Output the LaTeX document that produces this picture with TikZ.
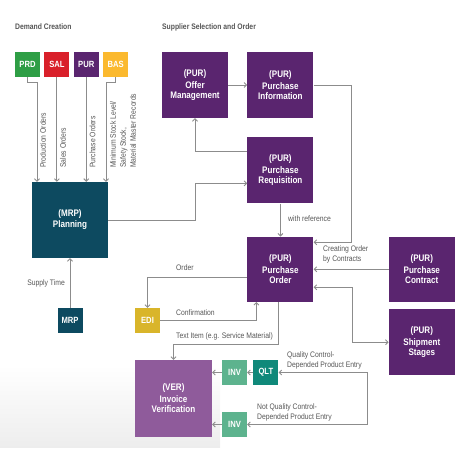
\documentclass[tikz,border=0pt]{standalone}
\usepackage{fontspec}
\setmainfont{Liberation Sans}[FakeStretch=0.85]
\usetikzlibrary{positioning,arrows.meta}

\definecolor{purcol}{HTML}{5A256F}
\definecolor{mrpcol}{HTML}{0D4A60}
\definecolor{vercol}{HTML}{8F5B9B}
\definecolor{prdcol}{HTML}{2E9E45}
\definecolor{salcol}{HTML}{D9202A}
\definecolor{bascol}{HTML}{FBB92E}
\definecolor{edicol}{HTML}{D9B52A}
\definecolor{invcol}{HTML}{5DB38E}
\definecolor{qltcol}{HTML}{10897A}
\definecolor{linegray}{HTML}{8C8C8C}
\definecolor{textgray}{HTML}{555555}

\begin{document}
\begin{tikzpicture}[x=1pt,y=-1pt,
                    big box/.style={rectangle,fill=purcol,text=white,align=center,minimum width=66pt,minimum height=66pt,inner sep=0pt,font=\fontsize{9.5}{10}\selectfont\bfseries},
                    small box/.style={rectangle,text=white,minimum width=25pt,minimum height=25pt,inner sep=0pt,font=\fontsize{9}{10}\selectfont\bfseries},
                    label text/.style={text=textgray,font=\fontsize{8}{10}\selectfont,align=left,inner sep=0pt},
                    title text/.style={text=textgray,font=\fontsize{8}{10}\selectfont\bfseries,inner sep=0pt,anchor=west},
                    arr/.style={draw=linegray,line width=0.9pt,-{Straight Barb[length=2.5pt,width=5pt]}},
                    arrs/.style={draw=linegray,line width=0.9pt,{Straight Barb[length=2.5pt,width=5pt]}-{Straight Barb[length=2.5pt,width=5pt]}}]

          \useasboundingbox (0,0) rectangle (474,450);
          \shade[top color=white,bottom color=gray!14] (0,365) rectangle (220,447);

          \node[title text] (dtitle) at (15,27) {Demand Creation};
          \node[title text] (stitle) at (162,27) {Supplier Selection and Order};

          % demand creation
          \node[small box,fill=prdcol] (prd) at (27.5,64.5) {PRD};
          \node[small box,fill=salcol] (sal) [right=4pt of prd] {SAL};
          \node[small box,fill=purcol] (pursm) [right=4pt of sal] {PUR};
          \node[small box,fill=bascol] (bas) [right=4pt of pursm] {BAS};

          \node[big box,fill=mrpcol,minimum width=76pt,minimum height=76pt] (plan) at (70,220) {(MRP)\\[1pt]Planning};
          \node[small box,fill=mrpcol] (mrp) at (70,320.5) {MRP};

          % supplier selection
          \node[big box] (offer) at (195,85) {(PUR)\\[2pt]Offer\\Management};
          \node[big box] (info) [right=19pt of offer] {(PUR)\\[2pt]Purchase\\Information};
          \node[big box] (req) [below=19pt of info] {(PUR)\\[2pt]Purchase\\Requisition};
          \node[big box,minimum height=65pt] (order) [below=33pt of req] {(PUR)\\[2pt]Purchase\\Order};
          \node[big box,minimum height=65pt] (contract) [right=75pt of order] {(PUR)\\[2pt]Purchase\\Contract};
          \node[big box] (ship) [below=7pt of contract] {(PUR)\\[2pt]Shipment\\Stages};

          \node[small box,fill=edicol] (edi) at (147.5,320.5) {EDI};
          \node[big box,fill=vercol,minimum width=77pt,minimum height=77pt] (ver) at (173.5,398.5) {(VER)\\[2pt]Invoice\\Verification};
          \node[small box,fill=invcol] (inva) at (234.5,372.5) {INV};
          \node[small box,fill=qltcol] (qlt) [right=6pt of inva] {QLT};
          \node[small box,fill=invcol] (invb) at (234.5,424.5) {INV};

          % demand connectors
          \draw[arr] (prd.south) -- ++(0,5) -| ([xshift=-33pt]plan.north);
          \draw[arr] (sal.south) -- (sal.south |- plan.north);
          \draw[arr] (pursm.south) -- (pursm.south |- plan.north);
          \draw[arr] (bas.south) -- ++(0,5) -| ([xshift=36pt]plan.north);
          \draw[arr] (mrp.north) -- (mrp.north |- plan.south);

          \node[label text,rotate=90,anchor=west] (lprd) at (43,168) {Production Orders};
          \node[label text,rotate=90,anchor=west] (lsal) at (63,168) {Sales Orders};
          \node[label text,rotate=90,anchor=west] (lpur) at (92.5,168) {Purchase Orders};
          \node[label text,rotate=90,anchor=west] (lbas) at (123,168) {Minimum Stock Level/\\Safety Stock,\\Material Master Records};
          \node[label text,anchor=east] (lsup) at (65,283) {Supply Time};

          % supplier connectors
          \draw[arr] (plan.east) -- ++(87,0) |- ([yshift=-13pt]req.west);
          \draw[arr] ([yshift=19pt]req.west) -| (offer.south);
          \path (offer) edge[arr] (info)
                (req) edge[arr] (order)
                (contract) edge[arr] (order);
          \draw[arr] (info.east) -- ++(38,0) |- ([yshift=27pt]order.east);
          \draw[arrs] ([yshift=-18pt]order.east) -- ++(39,0) |- (ship.west);
          \draw[arr] ([yshift=-8pt]order.west) -| (edi.north);
          \draw[arr] (edi.east) -| ([xshift=-24pt]order.south);
          \draw[arr] ([xshift=-2pt]order.south) -- ++(0,42) -| (ver.north);
          \draw[arr] (qlt.west) -- (inva.east);
          \draw[arr] (inva.west) -- (inva.west -| ver.east);
          \draw[arr] (invb.west) -- (invb.west -| ver.east);
          \draw[arrs] (qlt.east) -- ++(89,0) |- (invb.east);

          \node[label text,anchor=west] (lref) at (288,219) {with reference};
          \node[label text,anchor=west] (lcon) at (323,254.5) {Creating Order\\by Contracts};
          \node[label text,anchor=west] (lord) at (176,268) {Order};
          \node[label text,anchor=west] (lconf) at (176,313) {Confirmation};
          \node[label text,anchor=west] (ltext) at (176,336.5) {Text Item (e.g. Service Material)};
          \node[label text,anchor=west] (lqc) at (287,360) {Quality Control-\\Depended Product Entry};
          \node[label text,anchor=west] (lnqc) at (257,412) {Not Quality Control-\\Depended Product Entry};

        \end{tikzpicture}
\end{document}
